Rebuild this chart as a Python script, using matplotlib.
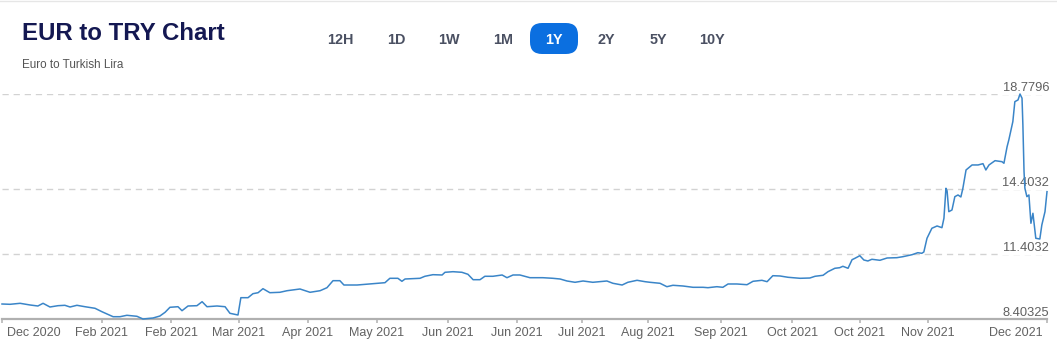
import matplotlib
matplotlib.use("Agg")
import matplotlib.pyplot as plt
from matplotlib.patches import FancyBboxPatch
from matplotlib.transforms import IdentityTransform, ScaledTranslation, blended_transform_factory
from matplotlib.lines import Line2D

plt.rcParams['font.family'] = ['Liberation Sans', 'DejaVu Sans']

# ---------------- data ----------------
days = [0, 2.8, 6.3, 9.8, 12.5, 14.3, 16.7, 19.5, 21.9, 23.7, 26.1, 28.9, 32.4, 34.8,
        38.7, 41.1, 43.5, 47.0, 49.1, 52.6, 55.0, 56.8, 58.5, 61.3, 62.7, 64.8, 67.9,
        69.7, 71.4, 74.9, 77.7, 79.4, 82.2, 83.2, 85.7, 87.4, 89.2, 90.9, 93.3, 96.8,
        99.3, 103.8, 107.3, 110.8, 113.2, 115.3, 117.7, 119.1, 123.7, 129.2, 133.4,
        135.1, 137.9, 139.3, 140.4, 145.6, 147.3, 150.1, 153.3, 154.3, 157.1, 160.2,
        162.3, 164.1, 166.5, 168.2, 171.0, 174.2, 175.9, 178.0, 180.4, 183.9, 188.4,
        191.9, 194.4, 196.8, 199.6, 202.4, 205.8, 210.7, 212.8, 216.0, 218.0, 221.2,
        224.0, 225.7, 229.2, 231.6, 233.7, 237.2, 240.7, 244.2, 245.9, 249.0, 251.1,
        252.9, 256.0, 259.5, 261.6, 264.7, 266.5, 268.5, 271.0, 273.8, 278.0, 281.4,
        283.2, 286.0, 287.7, 290.1, 291.8, 292.9, 294.7, 296.1, 297.1, 298.8, 300.2,
        301.6, 303.0, 305.8, 308.3, 311.7, 313.8, 317.0, 319.0, 320.4, 321.1, 322.2,
        323.9, 325.7, 327.4, 328.1, 328.8, 329.2, 329.8, 330.9, 331.9, 333.0, 334.0,
        334.7, 335.8, 336.5, 337.9, 340.0, 341.7, 342.7, 343.8, 345.9, 348.3, 349.0,
        350.1, 350.7, 352.1, 352.8, 353.9, 354.6, 355.3, 355.6, 356.0, 356.3, 357.0,
        357.7, 358.4, 359.1, 360.1, 361.5, 362.2, 363.3, 364.0]

rates = [9.095, 9.081, 9.127, 9.049, 9.003, 9.127, 8.957, 9.017, 9.035, 8.957, 9.035,
         8.970, 8.897, 8.740, 8.509, 8.509, 8.574, 8.528, 8.40325, 8.449, 8.541, 8.712,
         8.943, 8.970, 8.786, 9.003, 9.017, 9.201, 8.970, 9.003, 8.970, 8.666, 8.588,
         9.386, 9.386, 9.570, 9.616, 9.801, 9.616, 9.635, 9.708, 9.787, 9.635, 9.708,
         9.847, 10.170, 10.170, 9.971, 9.971, 10.031, 10.078, 10.280, 10.280, 10.142,
         10.248, 10.280, 10.373, 10.447, 10.433, 10.557, 10.585, 10.557, 10.465, 10.216,
         10.216, 10.373, 10.373, 10.433, 10.308, 10.433, 10.433, 10.308, 10.308, 10.280,
         10.248, 10.156, 10.096, 10.156, 10.096, 10.156, 10.050, 9.971, 10.096, 10.188,
         10.124, 10.096, 10.050, 9.893, 9.958, 9.925, 9.865, 9.865, 9.847, 9.893, 9.865,
         10.018, 10.018, 9.985, 10.142, 10.188, 10.124, 10.400, 10.387, 10.327, 10.280,
         10.294, 10.373, 10.419, 10.585, 10.742, 10.769, 10.834, 10.742, 11.139, 11.203,
         11.323, 11.125, 11.079, 11.157, 11.111, 11.217, 11.231, 11.277, 11.369, 11.461,
         11.434, 11.494, 12.126, 12.587, 12.693, 12.615, 13.048, 14.432, 14.308, 13.353,
         13.431, 14.045, 14.123, 14.031, 14.432, 15.276, 15.355, 15.507, 15.507, 15.567,
         15.276, 15.507, 15.705, 15.659, 15.585, 16.351, 16.660, 17.505, 18.427, 18.505,
         18.7796, 18.584, 17.352, 15.198, 14.432, 14.045, 14.123, 12.818, 13.279, 12.126,
         12.093, 12.739, 13.353, 14.275]

tick_days = [0, 34.8, 58.9, 82.5, 106.6, 130.6, 155.3, 179.4, 202, 225, 250.4,
             275.2, 298.8, 322.5, 364]
tick_labels = ["Dec 2020", "Feb 2021", "Feb 2021", "Mar 2021", "Apr 2021", "May 2021",
               "Jun 2021", "Jun 2021", "Jul 2021", "Aug 2021", "Sep 2021", "Oct 2021",
               "Oct 2021", "Nov 2021", "Dec 2021"]

y_levels = [8.40325, 11.4032, 14.4032, 18.7796]
y_level_labels = ["8.40325", "11.4032", "14.4032", "18.7796"]

ranges = ["12H", "1D", "1W", "1M", "1Y", "2Y", "5Y", "10Y"]
active_range = "1Y"

title = "EUR to TRY Chart"
subtitle = "Euro to Turkish Lira"

# ---------------- layout ----------------
W, H = 1057, 356
fig = plt.figure(figsize=(W / 100, H / 100), dpi=100)
fig.patch.set_facecolor("white")

def fx(px):
    return px / W

def fy(py):
    return 1 - py / H

ax_left, ax_right, ax_bottom, ax_top = 2, 1047, 319, 94
ax = fig.add_axes([fx(ax_left), fy(ax_bottom), fx(ax_right - ax_left), (ax_bottom - ax_top) / H])
ax.set_xlim(0, 364)
ax.set_ylim(y_levels[0], y_levels[-1])
ax.set_facecolor("none")

# dashed grid lines
for lv in y_levels[1:]:
    ax.axhline(lv, color="#d2d2d2", lw=1.0, ls=(0, (4.5, 3.5)), zorder=1)

# data line
ax.plot(days, rates, color="#3a85c8", lw=1.1, zorder=3, clip_on=False,
        solid_joinstyle="round")

# y level labels
ytrans = blended_transform_factory(fig.transFigure, ax.transData)
for lv, lab in zip(y_levels, y_level_labels):
    ax.text(fx(1049), lv, lab,
            transform=ytrans + ScaledTranslation(0, 3 / 100, fig.dpi_scale_trans),
            ha="right", va="baseline", fontsize=9.3, color="#606060", zorder=2,
            bbox=dict(facecolor="white", edgecolor="none", pad=1.0))

# axes styling
for s in ["left", "right", "top"]:
    ax.spines[s].set_visible(False)
ax.spines["bottom"].set_color("#b0b0b0")
ax.spines["bottom"].set_linewidth(1.6)
ax.set_yticks([])
ax.set_xticks(tick_days)
ax.set_xticklabels(tick_labels)
ax.tick_params(axis="x", length=3.2, width=1.1, color="#b0b0b0", pad=2.5,
               labelsize=9.0, labelcolor="#626262")
xl = ax.get_xticklabels()
xl[0].set_ha("left")
xl[0].set_transform(xl[0].get_transform() + ScaledTranslation(5 / 100, 0, fig.dpi_scale_trans))
xl[-1].set_ha("right")
xl[-1].set_transform(xl[-1].get_transform() + ScaledTranslation(-4 / 100, 0, fig.dpi_scale_trans))

# top light border
fig.add_artist(Line2D([0, 1], [fy(1), fy(1)], transform=fig.transFigure, color="#e6e6e6", lw=1.0))

# title & subtitle
fig.text(fx(22), fy(33), title, ha="left", va="center", fontsize=17.3, fontweight="bold",
         color="#141852")
fig.text(fx(22), fy(65), subtitle, ha="left", va="center", fontsize=8.4, color="#555555")

# range buttons
btn_x = [340, 396, 449, 503, 554, 606, 658, 712]
for x, r in zip(btn_x, ranges):
    if r == active_range:
        pill = FancyBboxPatch((x - 24 + 12, H - 54 + 12), 48 - 24, 31 - 24,
                              boxstyle="round,pad=12", transform=IdentityTransform(),
                              facecolor="#0b6fe0", edgecolor="none")
        fig.patches.append(pill)
        col = "white"
    else:
        col = "#4a5062"
    fig.text(fx(x), fy(39.5), r, ha="center", va="center", fontsize=10.4, fontweight="bold",
             color=col)

fig.savefig("out.png", dpi=100)
